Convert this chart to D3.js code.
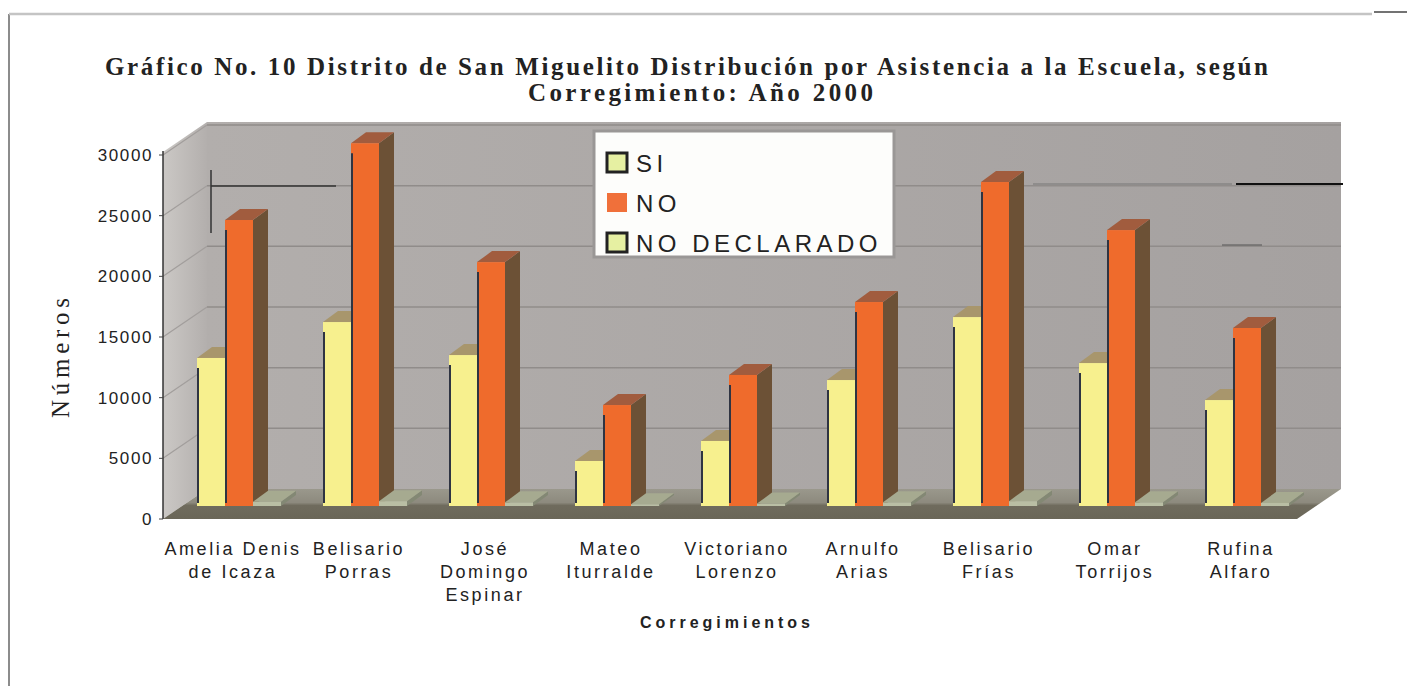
<!DOCTYPE html>
<html>
<head>
<meta charset="utf-8">
<script src="https://cdn.jsdelivr.net/npm/d3@7.9.0/dist/d3.min.js"></script>
<style>
  body { margin: 0; background: #fff; }
  svg { display: block; }
</style>
</head>
<body>
<svg id="chart" width="1407" height="686"></svg>
<script>
// data
const corregimientos = [
  ['Amelia Denis', 'de Icaza'],
  ['Belisario', 'Porras'],
  ['José', 'Domingo', 'Espinar'],
  ['Mateo', 'Iturralde'],
  ['Victoriano', 'Lorenzo'],
  ['Arnulfo', 'Arias'],
  ['Belisario', 'Frías'],
  ['Omar', 'Torrijos'],
  ['Rufina', 'Alfaro']
];
const series = ['SI', 'NO', 'NO DECLARADO'];
const si = [12200, 15160, 12440, 3710, 5360, 10380, 15570, 11780, 8730];
const no = [23570, 29900, 20100, 8320, 10800, 16810, 26700, 22740, 14670];
const noDeclarado = [350, 400, 300, 150, 200, 300, 400, 300, 250];
const yTicks = [0, 5000, 10000, 15000, 20000, 25000, 30000];

const values = { 'SI': si, 'NO': no, 'NO DECLARADO': noDeclarado };
const faces = {
  'SI': { front: '#f7f08e', top: '#a8966c', side: '#8c8660', legend: '#e6f0a2' },
  'NO': { front: '#ef6b2c', top: '#a15c3e', side: '#6c5136', legend: '#f0703a' },
  'NO DECLARADO': { front: '#b9bea4', top: '#a6aa90', side: '#838874', legend: '#e6f0a2' }
};

const svg = d3.select('#chart');
const serif = 'Liberation Serif, Times New Roman, serif';
const sans = 'Liberation Sans, Arial, sans-serif';

// depth of the 3d box and of the bars
const wallDX = 44, wallDY = -30;
const barShiftX = 13, barShiftY = -13;
const barDX = 15, barDY = -11;

const x0 = d3.scaleBand().domain(d3.range(corregimientos.length)).range([163, 1297]);
const x1 = d3.scaleBand().domain(series).range([0, x0.bandwidth()]).paddingOuter(0.75);
const y = d3.scaleLinear().domain([0, 30000]).range([519, 155]);

let defs = svg.append('defs');
let g1 = defs.append('linearGradient').attr('id', 'backwall').attr('x1', 0).attr('x2', 1);
g1.append('stop').attr('offset', 0).attr('stop-color', '#b2aeac');
g1.append('stop').attr('offset', 1).attr('stop-color', '#a5a1a0');
let g2 = defs.append('linearGradient').attr('id', 'sidewall').attr('x1', 0).attr('x2', 1);
g2.append('stop').attr('offset', 0).attr('stop-color', '#cbc8c5');
g2.append('stop').attr('offset', 1).attr('stop-color', '#b3afad');
let g3 = defs.append('linearGradient').attr('id', 'floor').attr('x1', 0).attr('x2', 0).attr('y1', 0).attr('y2', 1);
g3.append('stop').attr('offset', 0).attr('stop-color', '#9a988c');
g3.append('stop').attr('offset', 0.45).attr('stop-color', '#8d8a7e');
g3.append('stop').attr('offset', 0.55).attr('stop-color', '#6f6b5d');
g3.append('stop').attr('offset', 1).attr('stop-color', '#6a6658');

// page frame
svg.append('line').attr('x1', 9).attr('x2', 9).attr('y1', 14).attr('y2', 686)
  .attr('stroke', '#666').attr('stroke-width', 1.5);
svg.append('line').attr('x1', 9).attr('x2', 1372).attr('y1', 14).attr('y2', 14)
  .attr('stroke', '#c4c4c4').attr('stroke-width', 2.5);
svg.append('line').attr('x1', 1374).attr('x2', 1407).attr('y1', 12).attr('y2', 12)
  .attr('stroke', '#444').attr('stroke-width', 1.5);

// title
let title = svg.append('g').attr('font-family', serif).attr('font-weight', 'bold')
  .attr('font-size', 25).attr('fill', '#222');
title.append('text').attr('x', 105).attr('y', 75).attr('textLength', 1163)
  .attr('lengthAdjust', 'spacing')
  .text('Gráfico No. 10   Distrito de San Miguelito Distribución por Asistencia a la Escuela, según');
title.append('text').attr('x', 528).attr('y', 101).attr('textLength', 345)
  .attr('lengthAdjust', 'spacing')
  .text('Corregimiento: Año 2000');

// walls and floor
const x0L = x0.range()[0], x0R = x0.range()[1];
const wallTop = y(30250);
let pts = p => p.map(d => d.join(',')).join(' ');

svg.append('polygon')
  .attr('points', pts([[x0L, y(0)], [x0L, wallTop], [x0L + wallDX, wallTop + wallDY], [x0L + wallDX, y(0) + wallDY]]))
  .attr('fill', 'url(#sidewall)');
svg.append('polygon')
  .attr('points', pts([[x0L + wallDX, wallTop + wallDY], [x0R + wallDX, wallTop + wallDY], [x0R + wallDX, y(0) + wallDY], [x0L + wallDX, y(0) + wallDY]]))
  .attr('fill', 'url(#backwall)');
svg.append('polygon')
  .attr('points', pts([[x0L, y(0)], [x0R, y(0)], [x0R + wallDX, y(0) + wallDY], [x0L + wallDX, y(0) + wallDY]]))
  .attr('fill', 'url(#floor)');

// gridlines on both walls
svg.append('g').selectAll('line.back').data(yTicks.slice(1)).join('line')
  .attr('x1', x0L + wallDX).attr('x2', x0R + wallDX)
  .attr('y1', d => y(d) + wallDY).attr('y2', d => y(d) + wallDY)
  .attr('stroke', '#908c8a').attr('stroke-width', 1.5);
svg.append('g').selectAll('line.side').data(yTicks.slice(1)).join('line')
  .attr('x1', x0L).attr('x2', x0L + wallDX)
  .attr('y1', d => y(d)).attr('y2', d => y(d) + wallDY)
  .attr('stroke', '#a29e9c').attr('stroke-width', 1.2);

// stray scan lines on the wall
let stray = svg.append('g').attr('stroke', '#333').attr('fill', 'none');
stray.append('path').attr('d', 'M211,170V233M211,186H336').attr('stroke-width', 1.5);
stray.append('path').attr('d', 'M1033,184H1232').attr('stroke', '#777').attr('stroke-width', 1.2);
stray.append('path').attr('d', 'M1236,184H1343').attr('stroke', '#111').attr('stroke-width', 2.2);
stray.append('path').attr('d', 'M1222,245H1262').attr('stroke', '#555').attr('stroke-width', 1.2);

// bars
let bars = svg.append('g');
corregimientos.forEach((c, i) => {
  series.forEach(s => {
    let v = values[s][i];
    let bx = x0(i) + x1(s) + barShiftX;
    let bw = x1.bandwidth();
    let yt = y(v) + barShiftY;
    let yb = y(0) + barShiftY;
    let f = faces[s];
    bars.append('polygon')
      .attr('points', pts([[bx + bw, yt], [bx + bw + barDX, yt + barDY], [bx + bw + barDX, yb + barDY], [bx + bw, yb]]))
      .attr('fill', f.side);
    bars.append('polygon')
      .attr('points', pts([[bx, yt], [bx + bw, yt], [bx + bw + barDX, yt + barDY], [bx + barDX, yt + barDY]]))
      .attr('fill', f.top);
    bars.append('rect')
      .attr('x', bx).attr('y', yt).attr('width', bw).attr('height', yb - yt)
      .attr('fill', f.front);
    if (s !== 'NO DECLARADO') {
      bars.append('line')
        .attr('x1', bx + 1).attr('x2', bx + 1).attr('y1', yt + 10).attr('y2', yb - 3)
        .attr('stroke', '#2f3442').attr('stroke-width', 2);
    }
  });
});

// y axis
svg.append('line').attr('x1', x0L).attr('x2', x0L).attr('y1', y(30000) - 4).attr('y2', y(0))
  .attr('stroke', '#333').attr('stroke-width', 1.5);
let yAxis = svg.append('g').attr('font-family', sans).attr('font-size', 17).attr('fill', '#222');
yAxis.selectAll('text').data(yTicks).join('text')
  .attr('x', 153).attr('y', d => y(d) + 6)
  .attr('text-anchor', 'end').attr('letter-spacing', 1.6)
  .text(d => d);
yAxis.selectAll('line').data(yTicks).join('line')
  .attr('x1', x0L - 4).attr('x2', x0L).attr('y1', d => y(d)).attr('y2', d => y(d))
  .attr('stroke', '#444');

svg.append('text')
  .attr('transform', 'translate(69,358) rotate(-90)')
  .attr('text-anchor', 'middle').attr('font-family', serif).attr('font-size', 25)
  .attr('fill', '#222').attr('textLength', 120).attr('lengthAdjust', 'spacing')
  .text('Números');

// x labels
let xLab = svg.append('g').attr('font-family', sans).attr('font-size', 18).attr('fill', '#222');
corregimientos.forEach((c, i) => {
  let t = xLab.append('text')
    .attr('x', x0(i) + x0.bandwidth() / 2 + 7).attr('y', 555)
    .attr('text-anchor', 'middle').attr('letter-spacing', 2.6);
  c.forEach((line, k) => {
    t.append('tspan').attr('x', x0(i) + x0.bandwidth() / 2 + 7).attr('dy', k ? 23 : 0).text(line);
  });
});
svg.append('text').attr('x', 640).attr('y', 628)
  .attr('font-family', sans).attr('font-weight', 'bold').attr('font-size', 16)
  .attr('fill', '#222').attr('textLength', 170).attr('lengthAdjust', 'spacing')
  .text('Corregimientos');

// legend
let legend = svg.append('g');
legend.append('rect').attr('x', 594).attr('y', 131).attr('width', 300).attr('height', 126)
  .attr('fill', '#fdfdfb').attr('stroke', '#9a9796').attr('stroke-width', 3);
series.forEach((s, k) => {
  let ly = 172 + k * 40;
  let sw = legend.append('rect').attr('x', 607).attr('y', ly - 19).attr('width', 20).attr('height', 19)
    .attr('fill', faces[s].legend);
  if (s !== 'NO') sw.attr('stroke', '#222').attr('stroke-width', 3);
  legend.append('text').attr('x', 636).attr('y', ly)
    .attr('font-family', sans).attr('font-size', 24).attr('letter-spacing', 4.5)
    .attr('fill', '#222').text(s);
});
</script>
</body>
</html>
